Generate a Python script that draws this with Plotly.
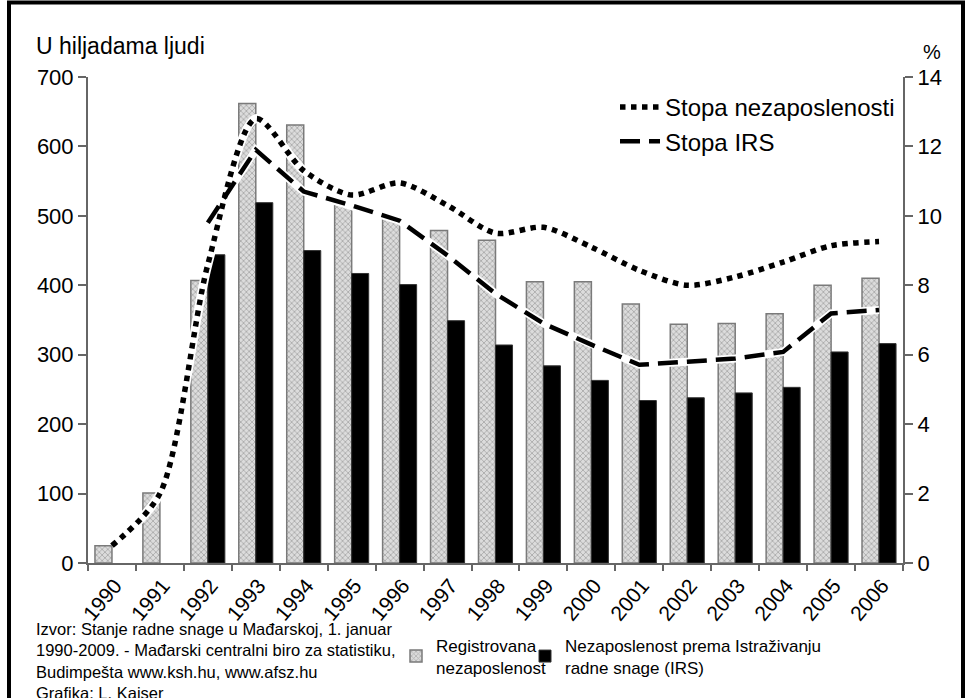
import plotly.graph_objects as go

years = [str(y) for y in range(1990, 2007)]
registered = [25, 101, 407, 662, 631, 517, 496, 479, 465, 405, 405, 373, 344, 345, 359, 400, 410]
irs = [None, None, 444, 519, 450, 417, 401, 349, 314, 284, 263, 234, 238, 245, 253, 304, 316]
rate_reg = [0.5, 2.0, 8.6, 12.8, 11.3, 10.6, 10.95, 10.3, 9.5, 9.67, 9.1, 8.43, 8.0, 8.24, 8.67, 9.14, 9.26]
rate_irs = [None, None, 9.8, 11.9, 10.7, 10.3, 9.86, 8.86, 7.76, 6.9, 6.29, 5.71, 5.8, 5.89, 6.08, 7.19, 7.29]

FONT = "Liberation Sans, Arial, sans-serif"
AX = "#666666"

fig = go.Figure()
fig.add_trace(go.Bar(
    x=years, y=registered, name="Registrovana<br>nezaposlenost", legend="legend2",
    marker=dict(color="#d4d4d4", line=dict(color="#7a7a7a", width=1.5),
                pattern=dict(shape="x", size=4, solidity=0.4, fgcolor="#7c7c7c", bgcolor="#dcdcdc")),
))
fig.add_trace(go.Bar(
    x=years, y=irs, name="Nezaposlenost prema Istraživanju<br>radne snage (IRS)", legend="legend3",
    marker=dict(color="#000000", line=dict(color="#333333", width=1)),
))
# white halos under the lines
fig.add_trace(go.Scatter(x=years, y=rate_reg, yaxis="y2", mode="lines", showlegend=False, hoverinfo="skip",
                         line=dict(color="white", width=9, shape="spline", smoothing=0.8)))
fig.add_trace(go.Scatter(x=years, y=rate_irs, yaxis="y2", mode="lines", showlegend=False, hoverinfo="skip",
                         line=dict(color="white", width=8)))
fig.add_trace(go.Scatter(x=years, y=rate_reg, yaxis="y2", mode="lines", name="Stopa nezaposlenosti",
                         line=dict(color="black", width=5.5, dash="dot", shape="spline", smoothing=0.8)))
fig.add_trace(go.Scatter(x=years, y=rate_irs, yaxis="y2", mode="lines", name="Stopa IRS",
                         line=dict(color="black", width=4.5, dash="20px,9px")))

W, H = 966, 698
ml, mr, mt, mb = 88, 63, 77, 131
pw, ph = W - ml - mr, H - mt - mb

def px(xp):
    return (xp - ml) / pw

def py(yp):
    return 1 - (yp - mt) / ph

fig.update_layout(
    width=W, height=H,
    margin=dict(l=ml, r=mr, t=mt, b=mb, pad=0),
    paper_bgcolor="white", plot_bgcolor="white",
    font=dict(family=FONT, size=20, color="black"),
    barmode="group", bargap=0.29, bargroupgap=0,
    xaxis=dict(type="category", showline=True, linecolor=AX, linewidth=2, ticks="outside",
               tickson="boundaries", ticklen=6, tickcolor=AX, tickwidth=2, tickangle=-50,
               tickfont=dict(size=21), showgrid=False, zeroline=False, ticklabelshift=3),
    yaxis=dict(range=[0, 700], dtick=100, showline=True, linecolor=AX, linewidth=2, ticks="outside",
               ticklen=8, tickcolor=AX, tickwidth=2, showgrid=False, zeroline=False,
               tickfont=dict(size=22)),
    yaxis2=dict(range=[0, 14], dtick=2, overlaying="y", side="right", showline=True, linecolor=AX,
                linewidth=2, ticks="outside", ticklen=8, tickcolor=AX, tickwidth=2, showgrid=False,
                zeroline=False, tickfont=dict(size=22)),
    legend=dict(x=px(900), xanchor="right", y=py(85), yanchor="top", bgcolor="rgba(0,0,0,0)",
                font=dict(size=24), tracegroupgap=0, itemwidth=40),
    legend2=dict(x=px(396), xanchor="left", y=py(632), yanchor="top",
                 bgcolor="rgba(0,0,0,0)", font=dict(size=17), itemwidth=30),
    legend3=dict(x=px(525), xanchor="left", y=py(632), yanchor="top",
                 bgcolor="rgba(0,0,0,0)", font=dict(size=17), itemwidth=30),
    showlegend=True,
)

fig.add_annotation(text="U hiljadama ljudi", xref="paper", yref="paper", x=px(34), y=py(46),
                   xanchor="left", yanchor="middle", showarrow=False, font=dict(size=23))
fig.add_annotation(text="%", xref="paper", yref="paper", x=px(932), y=py(52),
                   xanchor="center", yanchor="middle", showarrow=False, font=dict(size=20))
fig.add_annotation(
    text="Izvor: Stanje radne snage u Mađarskoj, 1. januar<br>1990-2009. - Mađarski centralni biro za statistiku,"
         "<br>Budimpešta www.ksh.hu, www.afsz.hu<br>Grafika: L. Kaiser",
    xref="paper", yref="paper", x=px(34), y=py(622), xanchor="left", yanchor="top", align="left",
    showarrow=False, font=dict(size=16.5))

fig.add_shape(type="rect", xref="paper", yref="paper", x0=px(9), x1=px(963), y0=py(720), y1=py(2),
              line=dict(color="black", width=4), fillcolor="rgba(0,0,0,0)", layer="above")

fig.write_html("out.html", config={"displayModeBar": False},
               post_script="document.body.style.margin='0px';")
